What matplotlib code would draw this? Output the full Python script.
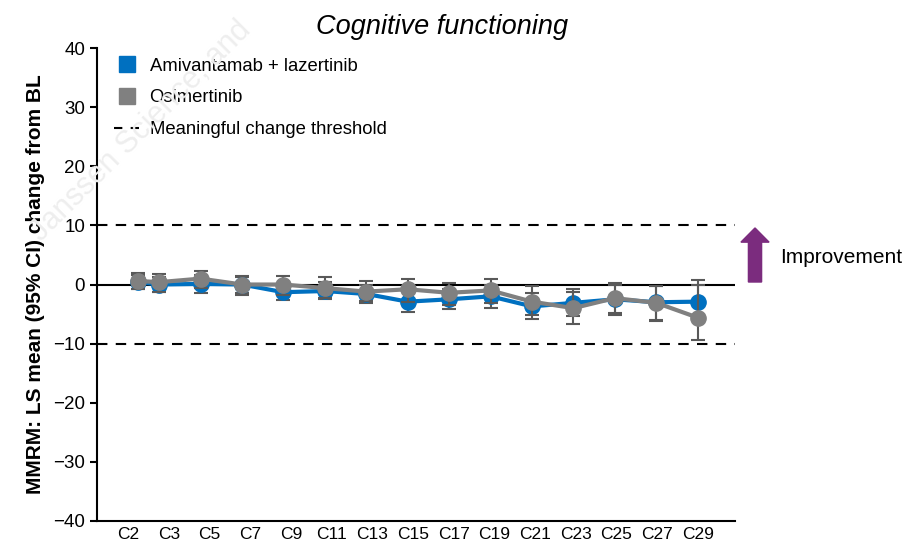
import matplotlib.pyplot as plt
from matplotlib.patches import FancyArrow
import numpy as np

plt.rcParams['font.family'] = ['Liberation Sans', 'DejaVu Sans']

# cycle number of each visit
ciclos = [2, 3, 5, 7, 9, 11, 13, 15, 17, 19, 21, 23, 25, 27, 29]
rotulos = ['C' + str(c) for c in ciclos]

# amivantamab + lazertinib
media_ami = [0.4, 0.0, 0.1, 0.0, -1.3, -1.1, -1.6, -2.9, -2.5, -2.0, -3.7, -3.1, -2.5, -3.0, -2.9]
inf_ami = [-0.8, -1.2, -1.5, -1.5, -2.6, -2.5, -3.2, -4.6, -4.2, -4.0, -5.9, -5.4, -4.8, -6.0, -5.4]
sup_ami = [1.6, 1.2, 1.6, 1.3, 0.0, 0.4, 0.0, -1.2, -0.8, 0.0, -1.5, -0.7, 0.0, -0.3, 0.0]

# osimertinib
media_osi = [0.6, 0.4, 1.0, 0.0, 0.0, -0.6, -1.2, -0.8, -1.4, -1.0, -2.9, -4.0, -2.3, -3.1, -5.6]
inf_osi = [-0.7, -1.2, -0.6, -1.8, -1.8, -2.3, -2.8, -3.0, -3.4, -3.2, -5.2, -6.6, -5.2, -6.2, -9.3]
sup_osi = [1.9, 1.7, 2.3, 1.4, 1.5, 1.2, 0.6, 1.0, 0.3, 1.0, -0.3, -1.3, 0.3, -0.3, 0.8]

azul = '#0070C0'
cinza = '#808080'
cinza_barra = '#595959'

fig = plt.figure(figsize=(9.08, 5.46), dpi=100)
ax = fig.add_axes([0.1068, 0.0458, 0.7027, 0.8662])

# marca d'agua
fig.text(0.155, 0.76, 'Janssen Science, and', rotation=45, fontsize=22,
         color='#eeeeee', ha='center', va='center', zorder=0)

ax.axhline(0, color='black', lw=1.5, zorder=1)
ax.axhline(10, color='black', lw=1.5, ls=(0, (5, 4)), zorder=1)
ax.axhline(-10, color='black', lw=1.5, ls=(0, (5, 4)), zorder=1)

def desenhaSerie(media, inf, sup, cor, z):
    erros = [[m - i for m, i in zip(media, inf)], [s - m for m, s in zip(media, sup)]]
    ax.errorbar(ciclos, media, yerr=erros, fmt='none', ecolor=cinza_barra,
                elinewidth=1.5, capsize=5, capthick=1.5, zorder=z)
    ax.plot(ciclos, media, color=cor, lw=3, marker='o', markersize=11, zorder=z + 1)

desenhaSerie(media_ami, inf_ami, sup_ami, azul, 2)
desenhaSerie(media_osi, inf_osi, sup_osi, cinza, 4)

ax.set_xlim(0, 30.8)
ax.set_ylim(-40, 40)
ax.set_yticks(range(-40, 41, 10))
# rotulos das visitas igualmente espacados
ax.set_xticks(np.linspace(1.5, 29, len(rotulos)))
ax.set_xticklabels(rotulos, fontsize=12.5)
ax.tick_params(axis='x', length=0, pad=4)
ax.tick_params(axis='y', labelsize=13.5, length=5, width=1.5, direction='out')
for lado in ['top', 'right']:
    ax.spines[lado].set_visible(False)
for lado in ['left', 'bottom']:
    ax.spines[lado].set_linewidth(1.5)

ax.set_ylabel('MMRM: LS mean (95% CI) change from BL', fontsize=15, fontweight='bold', labelpad=6)
fig.text(0.487, 0.951, 'Cognitive functioning', fontsize=19.5, style='italic',
         ha='center', va='center')

# legenda
leg = [
    plt.Line2D([], [], color=azul, marker='s', ls='none', markersize=11, label='Amivantamab + lazertinib'),
    plt.Line2D([], [], color=cinza, marker='s', ls='none', markersize=11, label='Osimertinib'),
    plt.Line2D([], [], color='black', ls=(0, (4, 4)), lw=1.5, label='Meaningful change threshold'),
]
ax.legend(handles=leg, loc='upper left', bbox_to_anchor=(0.0, 1.015), frameon=False,
          fontsize=13.3, handlelength=1.5, handletextpad=0.45, labelspacing=0.8)

# seta de melhora
fig.patches.append(FancyArrow(0.8315, 0.4835, 0, 0.073, width=0.0145, head_width=0.031,
                              head_length=0.026, color='#7B2C7E', transform=fig.transFigure))
fig.text(0.859, 0.5275, 'Improvement', fontsize=15, va='center', ha='left')

fig.savefig('out.png', dpi=100)
